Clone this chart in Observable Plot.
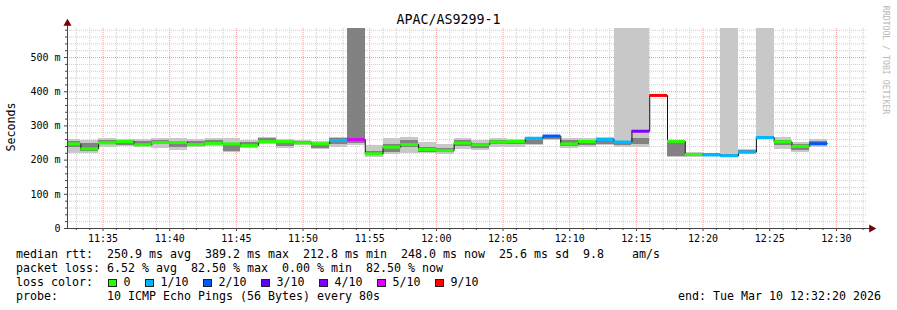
<!DOCTYPE html>
<html><head><meta charset="utf-8">
<script src="https://cdn.jsdelivr.net/npm/d3@7"></script>
<script src="https://cdn.jsdelivr.net/npm/@observablehq/plot@0.6"></script>
<style>
html,body{margin:0;padding:0;background:#fff;}
#wrap{position:relative;width:897px;height:310px;overflow:hidden;background:#fff;font-family:"DejaVu Sans Mono",monospace;color:#000;}
#wrap svg{position:absolute;left:0;top:0;}
.t{position:absolute;white-space:pre;font-size:11.63px;line-height:1;}
.box{position:absolute;width:9px;height:8px;box-sizing:border-box;border:1px solid #222;}
</style></head>
<body><div id="wrap"></div>
<script>
// ---- data (time in minutes after 11:00; each sample covers 80 s) ----
const title = "APAC/AS9299-1";
const sampleEndFirst = "11:33:20";
const stepSeconds = 80;
const median = [247.5,233,250.5,254.5,245,251.5,251.5,245.5,249,247.5,242.5,254,254,250.5,248,257.5,260,218.5,238,245.5,231,228,250,245,253,254.5,264,270.5,247.5,254.4,260,253,284.5,389.2,255,216.5,215,212.8,223.5,266,253.5,240.5,248];
const lossTenths = [0,0,0,0,0,0,0,0,0,0,0,0,0,0,0,1,5,0,0,0,0,0,0,0,0,0,1,2,0,0,1,1,4,9,0,0,1,1,1,1,0,0,2];
const smokeLo      = [220,220,238,240,238,235,228,238,240,223,233,245,233,243,230,238,243,208,217,218,218,216,230,228,238,238,242,257,233,238,242,236,236,null,208,208,210,208,216,262,230,223,238];
const smokeInnerLo = [238,225,245,243,243,245,238,243,245,225,238,250,240,247,235,245,250,214,223,238,223,221,240,235,245,245,247,260,240,243,247,242,247,null,212,213,212,210,220,264,242,228,242];
const smokeInnerHi = [255,248,257,257,255,257,252,255,257,247,252,262,255,255,250,262,585,226,247,257,238,235,257,250,257,255,262,268,257,252,262,255,264,null,252,220,218,216,228,270,257,247,255];
const smokeHi      = [260,257,262,260,260,262,262,260,262,262,257,267,260,257,255,265,585,242,262,267,252,247,262,257,262,260,265,272,262,262,265,585,585,null,257,223,220,585,231,585,267,252,260];
const lossLevels = [0,1,2,3,4,5,9];
const lossLabels = ["0","1/10","2/10","3/10","4/10","5/10","9/10"];
const lossColors = ["#26ff00","#00b8ff","#0059ff","#5e00ff","#7e00ff","#dd00ff","#ff0000"];
const xTickMinutes = [35,40,45,50,55,60,65,70,75,80,85,90];
const xTickLabels = ["11:35","11:40","11:45","11:50","11:55","12:00","12:05","12:10","12:15","12:20","12:25","12:30"];
const yTickValues = [0,100,200,300,400,500];
const yTickLabels = ["0","100 m","200 m","300 m","400 m","500 m"];
const yMax = 585;
const legendLines = [
  "median rtt:  250.9 ms avg  389.2 ms max  212.8 ms min  248.0 ms now  25.6 ms sd  9.8    am/s",
  "packet loss: 6.52 % avg  82.50 % max  0.00 % min  82.50 % now",
  "loss color:",
  "probe:       10 ICMP Echo Pings (56 Bytes) every 80s"
];
const endText = "end: Tue Mar 10 12:32:20 2026";

// ---- build ----
const toMin = s => { const [h,m,sec] = s.split(":").map(Number); return (h-11)*60 + m + sec/60; };
const firstEnd = toMin(sampleEndFirst), stepMin = stepSeconds/60;
const xEnd = toMin("12:32:20"), xStart = xEnd - 60;
const colorOf = new Map(lossLevels.map((l,i)=>[l, lossColors[i]]));
const segs = median.map((m,i)=>{
  const x2 = firstEnd + i*stepMin;
  return {x1: Math.max(xStart, x2 - stepMin), x2, median: m, color: colorOf.get(lossTenths[i]),
          lo: smokeLo[i], ilo: smokeInnerLo[i], ihi: smokeInnerHi[i], hi: smokeHi[i]};
});
const smoke = segs.filter(d => d.hi != null);
const stepPts = segs.map(d=>({x:d.x1, y:d.median})).concat([{x: segs[segs.length-1].x2, y: segs[segs.length-1].median}]);

const W = 897, H = 250, mL = 67, mR = 30, mT = 28, mB = 22;
const pxPerMin = (W - mL - mR) / 60, pxPerMs = (H - mT - mB) / yMax;
const yMinor = d3.range(20, yMax, 20).filter(v => v % 100);
const xMinor = d3.range(33, 93).filter(v => v % 5);
const xLab = new Map(xTickMinutes.map((m,i)=>[m, xTickLabels[i]]));
const yLab = new Map(yTickValues.map((v,i)=>[v, yTickLabels[i]]));
const axisColor = "#444";

const chart = Plot.plot({
  width: W, height: H, marginLeft: mL, marginRight: mR, marginTop: mT, marginBottom: mB,
  x: {domain: [xStart, xEnd], axis: null},
  y: {domain: [0, yMax], axis: null},
  color: {type: "identity"},
  style: {fontFamily: "'DejaVu Sans Mono', monospace", fontSize: "10px", color: "#000", background: "transparent", overflow: "visible"},
  marks: [
    Plot.ruleY(yMinor, {stroke: "#cccccc", strokeDasharray: "1,1"}),
    Plot.ruleX(xMinor, {stroke: "#cccccc", strokeDasharray: "1,1"}),
    Plot.ruleY(yTickValues.slice(1), {stroke: "#f29a9a", strokeDasharray: "1,1"}),
    Plot.ruleX(xTickMinutes, {stroke: "#f29a9a", strokeDasharray: "1,1"}),
    Plot.rect(smoke, {x1: "x1", x2: "x2", y1: "lo", y2: "hi", fill: "#c8c8c8", shapeRendering: "crispEdges"}),
    Plot.rect(smoke, {x1: "x1", x2: "x2", y1: "ilo", y2: "ihi", fill: "#828282", shapeRendering: "crispEdges"}),
    Plot.line(stepPts, {x: "x", y: "y", curve: "step-after", stroke: "#111", strokeWidth: 1}),
    Plot.ruleY(segs, {y: "median", x1: "x1", x2: "x2", stroke: "color", strokeWidth: 3}),
    // axes
    Plot.axisY({ticks: yMinor, tickSize: 2, tickFormat: () => "", label: null, stroke: axisColor}),
    Plot.axisY({ticks: yTickValues, tickSize: 3, tickPadding: 4, tickFormat: d => yLab.get(d), label: null, stroke: axisColor, fill: "#000"}),
    Plot.axisX({ticks: xMinor, tickSize: 2, tickFormat: () => "", label: null, stroke: axisColor}),
    Plot.axisX({ticks: xTickMinutes, tickSize: 3, tickPadding: 3, tickFormat: d => xLab.get(d), label: null, stroke: axisColor, fill: "#000"}),
    Plot.ruleY([{y: 0, a: xStart, b: xEnd + 4/pxPerMin}], {y: "y", x1: "a", x2: "b", stroke: axisColor}),
    Plot.ruleX([{x: xStart, a: 0, b: yMax + 4/pxPerMs}], {x: "x", y1: "a", y2: "b", stroke: axisColor}),
    Plot.dot([{x: xEnd + 4/pxPerMin, y: 0}], {x: "x", y: "y", symbol: "triangle", r: 3, fill: "#7a0000", stroke: null, rotate: 90}),
    Plot.dot([{x: xStart, y: yMax + 5/pxPerMs}], {x: "x", y: "y", symbol: "triangle", r: 3, fill: "#7a0000", stroke: null})
  ]
});
const wrap = document.getElementById("wrap");
wrap.appendChild(chart);

function addText(txt, left, top, extra) {
  const d = document.createElement("div");
  d.className = "t"; d.textContent = txt;
  d.style.left = left + "px"; d.style.top = top + "px";
  if (extra) Object.assign(d.style, extra);
  wrap.appendChild(d); return d;
}
// title
addText(title, 0, 12.5, {width: W + "px", textAlign: "center", fontSize: "13.3px", left: "0px"});
// y label
addText("Seconds", 12, 127, {transform: "translate(-50%,-50%) rotate(-90deg)", fontSize: "11.63px"});
// watermark
addText("RRDTOOL / TOBI OETIKER", 886, 60, {transform: "translate(-50%,-50%) rotate(90deg)", fontSize: "8.2px", color: "#b8b8b8"});
// legend
const legTops = [248.5, 262.5, 276.5, 290.5];
legendLines.forEach((l,i) => addText(l, 16, legTops[i]));
addText(endText, 678, legTops[3]);
let bx = 108;
lossLabels.forEach((lab, i) => {
  const b = document.createElement("div");
  b.className = "box"; b.style.left = bx + "px"; b.style.top = "279px"; b.style.background = lossColors[i];
  wrap.appendChild(b);
  addText(lab, bx + 15.5, legTops[2]);
  bx += 15 + 7 * lab.length + 15;
});
</script>
</body></html>
